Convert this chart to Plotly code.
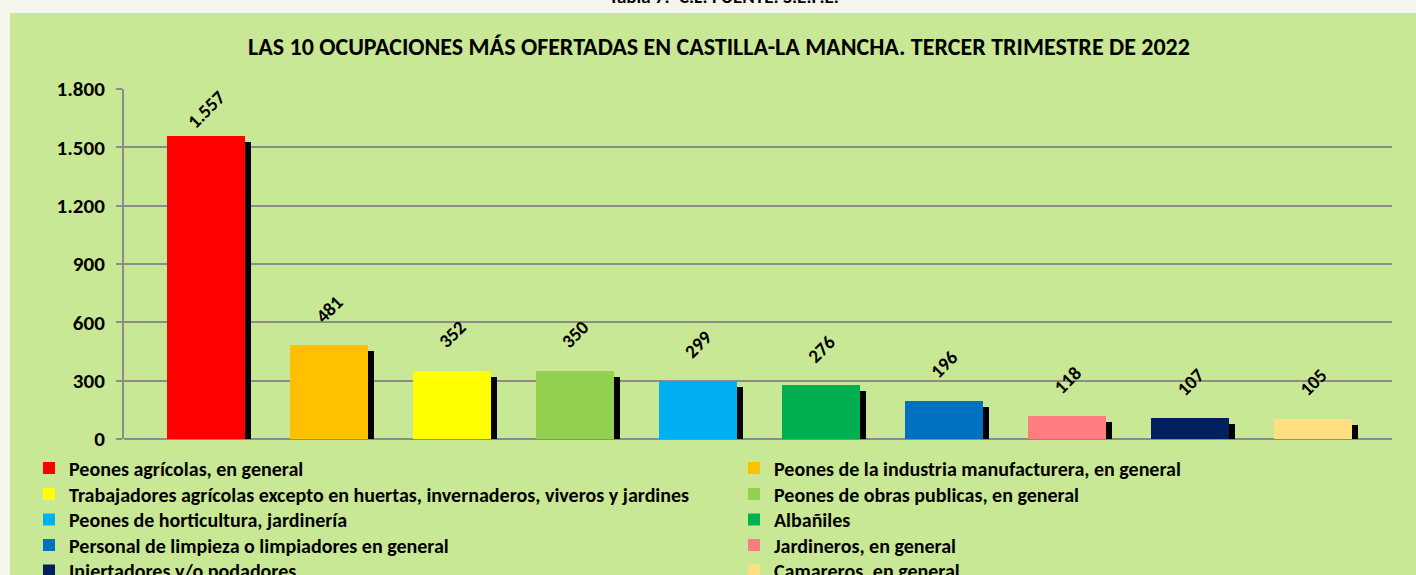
import plotly.graph_objects as go

# ---- data ----
categories = [
    "Peones agrícolas, en general",
    "Peones de la industria manufacturera, en general",
    "Trabajadores agrícolas excepto en huertas, invernaderos, viveros y jardines",
    "Peones de obras publicas, en general",
    "Peones de horticultura, jardinería",
    "Albañiles",
    "Personal de limpieza o limpiadores en general",
    "Jardineros, en general",
    "Injertadores y/o podadores",
    "Camareros, en general",
]
values = [1557, 481, 352, 350, 299, 276, 196, 118, 107, 105]
colors = ["#FF0000", "#FFC000", "#FFFF00", "#92D050", "#00B0F0",
          "#00B050", "#0070C0", "#FF7C80", "#002060", "#FFDF7F"]
y_tickvals = [0, 300, 600, 900, 1200, 1500, 1800]
title_text = "LAS 10 OCUPACIONES MÁS OFERTADAS EN CASTILLA-LA MANCHA. TERCER TRIMESTRE DE 2022"
top_text = "Tabla 7.- C.L. FUENTE: S.E.P.E."

# ---- layout constants ----
W, H = 1416, 575
ML, MR, MT, MB = 124, 24, 89, 136
PW, PH = W - ML - MR, H - MT - MB
YMAX = 1800
X0, X1 = -0.667, 9.642
ypx = PH / YMAX                 # px per unit
xpx = PW / (X1 - X0)            # px per category
BAR_W = 78 / xpx
SH = 6                           # shadow offset px
FONT = "Carlito, Lato, sans-serif"
GREEN = "#C9E895"
PAGE = "#F4F6EE"
GRID = "#8C8C8C"
LEG_X = [29, 734]                # legend column left edges, px
LEG_Y = [468, 494, 519.5, 545, 570.5]   # legend row centres, px


def px_x(p):
    return (p - ML) / PW


def px_y(p):
    return (MT + PH - p) / PH


fig = go.Figure()

# shadows
fig.add_trace(go.Bar(
    x=categories,
    y=[v - SH / ypx + 2 / ypx for v in values],
    base=[-2 / ypx] * len(values),
    width=BAR_W,
    offset=-BAR_W / 2 + SH / xpx,
    marker=dict(color="black", line=dict(width=0)),
    showlegend=False, hoverinfo="skip", cliponaxis=False,
))

legends = {}
for i, (c, v, col) in enumerate(zip(categories, values, colors)):
    lname = "legend" if i == 0 else f"legend{i + 1}"
    fig.add_trace(go.Bar(
        x=[c], y=[v], name=c, width=BAR_W,
        marker=dict(color=col, line=dict(width=0)),
        legend=lname,
    ))
    legends[lname] = dict(
        x=px_x(LEG_X[i % 2]), y=px_y(LEG_Y[i // 2]),
        xanchor="left", yanchor="middle", orientation="v",
        bgcolor="rgba(0,0,0,0)", borderwidth=0,
        font=dict(family=FONT, size=20, color="black", weight="bold"),
        itemclick=False, itemdoubleclick=False,
    )

# data labels
for c, v in zip(categories, values):
    center = min(v * ypx + 36, PH - 20)
    fig.add_annotation(
        x=c, y=0, yref="y", xref="x",
        yshift=center, text=f"{v:,}".replace(",", "."),
        textangle=-45, showarrow=False,
        xanchor="center", yanchor="middle",
        font=dict(family=FONT, size=19, color="black", weight="bold"),
    )

# title pieces
fig.add_annotation(
    text=title_text, xref="paper", yref="paper",
    x=px_x(719), y=px_y(47),
    showarrow=False, xanchor="center", yanchor="middle",
    font=dict(family=FONT, size=24, color="black", weight="bold"),
)
fig.add_annotation(
    text=top_text, xref="paper", yref="paper",
    x=px_x(724), y=px_y(10),
    showarrow=False, xanchor="center", yanchor="bottom",
    font=dict(family=FONT, size=19, color="black", weight="bold"),
)

# panel background
fig.add_shape(type="rect", xref="paper", yref="paper", layer="below",
              x0=px_x(10), x1=px_x(W + 5), y0=px_y(H + 5), y1=px_y(13),
              fillcolor=GREEN, line=dict(width=0))

fig.update_layout(
    width=W, height=H,
    margin=dict(l=ML, r=MR, t=MT, b=MB, autoexpand=False),
    paper_bgcolor=PAGE, plot_bgcolor=GREEN,
    barmode="overlay", bargap=0,
    separators=",.",
    showlegend=True,
    xaxis=dict(range=[X0, X1], showticklabels=False, showgrid=False,
               zeroline=False, showline=False, ticks=""),
    yaxis=dict(range=[0, YMAX], tickvals=y_tickvals, tickformat=",d",
               showgrid=True, gridcolor=GRID, gridwidth=2,
               zeroline=True, zerolinecolor=GRID, zerolinewidth=2,
               showline=True, linecolor=GRID, linewidth=2,
               ticks="outside", ticklen=6, tickcolor=GRID, tickwidth=2,
               ticklabelstandoff=7,
               tickfont=dict(family=FONT, size=21, color="black", weight="bold")),
    **legends,
)

fig.write_html("out.html", config={"displayModeBar": False},
               post_script="document.body.style.margin='0';")
